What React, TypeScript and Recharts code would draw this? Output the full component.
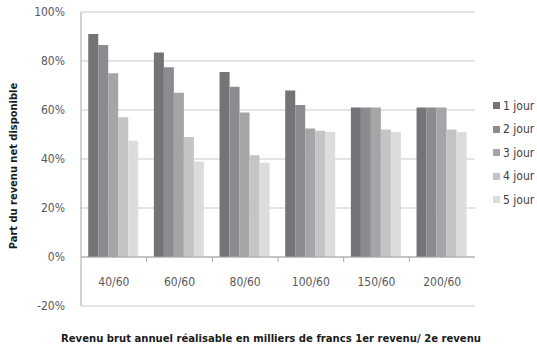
import * as React from 'react';
import { Bar, BarChart, CartesianGrid, Label, Legend, ReferenceLine, XAxis, YAxis } from 'recharts';

const categories = ['40/60', '60/60', '80/60', '100/60', '150/60', '200/60'];
const jour1 = [91, 83.5, 75.5, 68, 61, 61];
const jour2 = [86.5, 77.5, 69.5, 62, 61, 61];
const jour3 = [75, 67, 59, 52.5, 61, 61];
const jour4 = [57, 49, 41.5, 51.5, 52, 52];
const jour5 = [47.5, 39, 38.5, 51, 51, 51];
const yTicks = [-20, 0, 20, 40, 60, 80, 100];

const seriesNames = ['1 jour', '2 jour', '3 jour', '4 jour', '5 jour'];
const seriesColors = ['#737378', '#8c8c90', '#a5a5a8', '#c4c4c6', '#dcdcde'];

const data = categories.map((cat, i) => ({
  cat,
  j1: jour1[i],
  j2: jour2[i],
  j3: jour3[i],
  j4: jour4[i],
  j5: jour5[i],
}));

const FONT = '"DejaVu Sans Condensed", "Liberation Sans Narrow", sans-serif';

function CatTick(props: any) {
  const { x, y, payload } = props;
  return (
    <text x={x} y={y - 28} textAnchor="middle" fontSize={12} fill="#595959" fontFamily={FONT}>
      {payload.value}
    </text>
  );
}

function LegendBox() {
  return (
    <div style={{ fontFamily: FONT, fontSize: 12, color: '#404040' }}>
      {seriesNames.map((name, i) => (
        <div key={name} style={{ display: 'flex', alignItems: 'center', height: 23.5 }}>
          <span style={{ width: 7, height: 7, background: seriesColors[i], marginRight: 3, display: 'inline-block' }} />
          {name}
        </div>
      ))}
    </div>
  );
}

export default function App() {
  return (
    <div style={{ position: 'absolute', left: 0, top: 0, background: '#fff' }}>
      <BarChart
        width={537}
        height={349}
        data={data}
        margin={{ top: 12, right: 62, bottom: 0, left: 21 }}
        barCategoryGap="11%"
        barGap={0}
      >
        <CartesianGrid vertical={false} stroke="#c9c9c9" />
        <XAxis
          dataKey="cat"
          axisLine={false}
          tickLine={false}
          tick={<CatTick />}
          height={43}
          interval={0}
        >
          <Label
            content={({ viewBox }: any) => (
              <text
                x={viewBox.x + viewBox.width / 2 - 7}
                y={viewBox.y + 36}
                textAnchor="middle"
                fontSize={11.2}
                fontWeight="bold"
                fill="#1a1a1a"
                fontFamily={FONT}
              >
                Revenu brut annuel réalisable en milliers de francs 1er revenu/ 2e revenu
              </text>
            )}
          />
        </XAxis>
        <YAxis
          domain={[-20, 100]}
          ticks={yTicks}
          width={60}
          tickFormatter={(v: number) => `${v}%`}
          axisLine={{ stroke: '#a6a6a6' }}
          tickLine={false}
          tick={{ fontSize: 12, fill: '#595959', fontFamily: FONT }}
          tickMargin={10}
        >
          <Label
            content={({ viewBox }: any) => {
              const cy = viewBox.y + viewBox.height / 2 + 7;
              return (
                <text
                  x={14}
                  y={cy}
                  transform={`rotate(-90, 14, ${cy})`}
                  textAnchor="middle"
                  dominantBaseline="middle"
                  fontSize={11}
                  fontWeight="bold"
                  fill="#1a1a1a"
                  fontFamily={FONT}
                >
                  Part du revenu net disponible
                </text>
              );
            }}
          />
        </YAxis>
        <ReferenceLine y={0} stroke="#a6a6a6" />
        {categories.map((cat) => (
          <ReferenceLine
            key={cat}
            segment={[
              { x: cat, y: 0 },
              { x: cat, y: -2 },
            ]}
            position="end"
            stroke="#a6a6a6"
          />
        ))}
        <Bar dataKey="j1" name={seriesNames[0]} fill={seriesColors[0]} isAnimationActive={false} />
        <Bar dataKey="j2" name={seriesNames[1]} fill={seriesColors[1]} isAnimationActive={false} />
        <Bar dataKey="j3" name={seriesNames[2]} fill={seriesColors[2]} isAnimationActive={false} />
        <Bar dataKey="j4" name={seriesNames[3]} fill={seriesColors[3]} isAnimationActive={false} />
        <Bar dataKey="j5" name={seriesNames[4]} fill={seriesColors[4]} isAnimationActive={false} />
        <Legend
          layout="vertical"
          align="center"
          verticalAlign="middle"
          content={<LegendBox />}
          wrapperStyle={{ position: 'absolute', left: 493, top: 94, width: 50 }}
        />
      </BarChart>
    </div>
  );
}
